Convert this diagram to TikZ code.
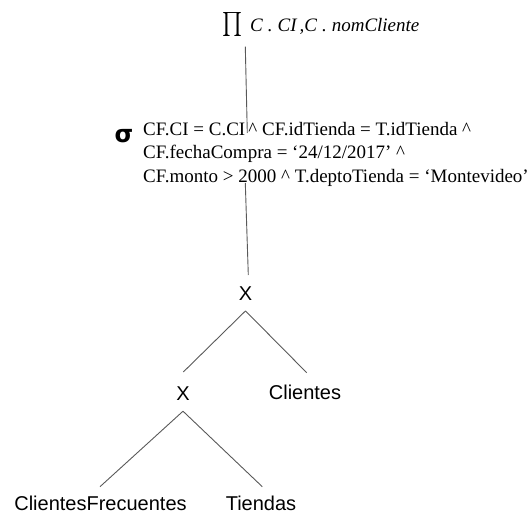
\documentclass[tikz,border=0pt]{standalone}
\usepackage{graphicx}
\usepackage{fontspec}
\setmainfont{Liberation Serif}
\newfontfamily\arialfont{Liberation Sans}
\newfontfamily\symfont{DejaVu Sans}
\begin{document}
\begin{tikzpicture}[x=1pt,y=-1pt,
  edge/.style={draw=black!65,line width=0.9pt},
  rel/.style={inner sep=0pt,anchor=base,font=\arialfont\fontsize{20}{24}\selectfont},
  cond/.style={inner sep=0pt,anchor=base west,align=left,
    font=\fontsize{19}{23.5}\selectfont}]
\useasboundingbox (0,0) rectangle (530,511);

% projection
\node[inner sep=0pt,anchor=south] (pisym) at (232.5,37)
  {\resizebox*{20pt}{24pt}{$\prod$}};
\node[inner sep=0pt,anchor=base west] (proj) at (250,32)
  {\fontsize{19}{20}\selectfont\itshape C\hspace{5pt}.\hspace{5pt}CI\hspace{3pt},C\hspace{5pt}.\hspace{5pt}nomCliente};

% selection (anchored at the baseline of its last line)
\node[inner sep=0pt,anchor=base] (sig) at (124,142)
  {\symfont\bfseries\fontsize{24}{24}\selectfont σ};
\node[cond] (sel) at (143,182)
  {CF.CI = C.CI\,\^{} CF.idTienda = T.idTienda \^{}\\
   CF.fechaCompra = ‘24/12/2017’ \^{}\\
   CF.monto > 2000 \^{} T.deptoTienda = ‘Montevideo’};

% products and relations
\node[rel] (x1) at (245.5,300) {X};
\node[rel] (x2) at (183,400) {X};
\node[rel] (cli) at (305,399) {Clientes};
\node[rel] (cf) at (100.5,510) {ClientesFrecuentes};
\node[rel] (tie) at (261,510) {Tiendas};

% the vertical line runs through the selection text
\coordinate (p1) at (245.3,46.7);
\coordinate (p2) at (247.3,133);
\coordinate (p3) at (245.3,183);
\coordinate (p4) at (248.3,275);
\draw[edge] (p1) -- (p2);
\draw[edge] (p3) -- (p4);

\draw[edge] ([yshift=-10.7pt]x1.south) -- ([xshift=0.3pt,yshift=28pt]x2.base);
\draw[edge] ([yshift=-10.7pt]x1.south) -- ([xshift=1.7pt,yshift=26.3pt]cli.base);
\draw[edge] ([yshift=-11pt]x2.south) -- ([xshift=-0.5pt,yshift=23.3pt]cf.base);
\draw[edge] ([yshift=-11pt]x2.south) -- ([xshift=1.3pt,yshift=23.3pt]tie.base);
\end{tikzpicture}
\end{document}
